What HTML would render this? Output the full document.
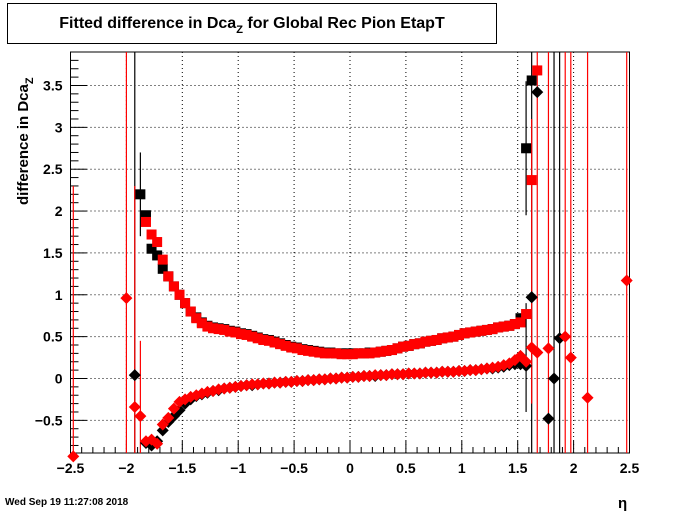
<!DOCTYPE html>
<html><head><meta charset="utf-8"><style>
body{margin:0;background:#fff;font-family:"Liberation Sans",sans-serif}
svg{display:block}
text{font-family:"Liberation Sans",sans-serif;font-weight:bold}
</style></head><body>
<svg id="c" width="700" height="512">
<rect x="7.5" y="3.5" width="489" height="40" fill="#fff" stroke="#000"/>
<text x="252" y="28" font-size="16" text-anchor="middle">Fitted difference in Dca<tspan font-size="11" dy="5">Z</tspan><tspan dy="-5"> for Global Rec Pion EtapT</tspan></text>
<text transform="translate(28,205) rotate(-90)" font-size="15">difference in Dca<tspan font-size="11" dy="5">Z</tspan></text>
<text x="618" y="508" font-size="15" font-weight="normal">η</text>
<text x="5" y="505" font-size="10">Wed Sep 19 11:27:08 2018</text>
<g id="grid"></g><g id="axes"></g><g id="marks"></g>
</svg>
<script>
const xMin=-2.5,xMax=2.5,yMin=-0.89,yMax=3.9;
const L=70.5,R=629.5,T=52,B=453;
const xTicks=[-2.5,-2,-1.5,-1,-0.5,0,0.5,1,1.5,2,2.5];
const xTickLabels=["−2.5","−2","−1.5","−1","−0.5","0","0.5","1","1.5","2","2.5"];
const yTicks=[-0.5,0,0.5,1,1.5,2,2.5,3,3.5];
const yTickLabels=["−0.5","0","0.5","1","1.5","2","2.5","3","3.5"];
const upperRedStart=-1.825;
const upperRed=[1.87,1.72,1.63,1.42,1.22,1.1,1.0,0.9,0.8,0.72,0.66,0.62,0.6,0.59,0.58,0.56,0.55,0.53,0.52,0.5,0.48,0.46,0.45,0.43,0.41,0.39,0.37,0.36,0.34,0.33,0.32,0.31,0.3,0.3,0.3,0.29,0.29,0.29,0.3,0.3,0.3,0.31,0.32,0.33,0.34,0.36,0.38,0.39,0.41,0.42,0.44,0.45,0.46,0.48,0.49,0.5,0.52,0.54,0.55,0.56,0.57,0.58,0.59,0.61,0.62,0.63,0.65,0.67,0.77,2.37,3.68];
const upperBlackStart=-1.875;
const upperBlack=[2.2,1.95,1.55,1.47,1.31,1.22,1.1,1.0,0.9,0.8,0.73,0.67,0.63,0.61,0.6,0.59,0.57,0.56,0.54,0.53,0.51,0.49,0.47,0.46,0.44,0.42,0.4,0.38,0.37,0.35,0.34,0.33,0.32,0.31,0.31,0.3,0.3,0.3,0.3,0.3,0.3,0.31,0.31,0.32,0.33,0.34,0.36,0.38,0.39,0.41,0.42,0.44,0.45,0.46,0.48,0.49,0.5,0.52,0.54,0.55,0.56,0.57,0.58,0.59,0.61,0.62,0.63,0.65,0.72,2.75,3.56];
const lowerRedStart=-1.825;
const lowerRed=[-0.75,-0.73,-0.78,-0.55,-0.47,-0.36,-0.28,-0.25,-0.22,-0.2,-0.18,-0.16,-0.15,-0.13,-0.12,-0.11,-0.1,-0.09,-0.08,-0.07,-0.07,-0.06,-0.06,-0.05,-0.05,-0.04,-0.04,-0.03,-0.03,-0.02,-0.02,-0.01,-0.01,0,0,0.01,0.01,0.02,0.02,0.03,0.03,0.04,0.04,0.04,0.05,0.05,0.05,0.06,0.06,0.06,0.07,0.07,0.07,0.08,0.08,0.08,0.09,0.09,0.1,0.1,0.11,0.12,0.13,0.14,0.16,0.18,0.22,0.27,0.2,0.37,0.31];
const lowerBlackStart=-1.825;
const lowerBlack=[-0.77,-0.8,-0.75,-0.62,-0.52,-0.45,-0.38,-0.3,-0.25,-0.21,-0.19,-0.17,-0.15,-0.14,-0.12,-0.11,-0.1,-0.09,-0.08,-0.08,-0.07,-0.06,-0.06,-0.05,-0.05,-0.04,-0.04,-0.03,-0.03,-0.02,-0.02,-0.01,-0.01,0,0,0.01,0.01,0.02,0.02,0.03,0.03,0.03,0.04,0.04,0.05,0.05,0.05,0.06,0.06,0.06,0.07,0.07,0.07,0.08,0.08,0.08,0.09,0.09,0.1,0.1,0.11,0.12,0.12,0.13,0.14,0.16,0.17,0.17,0.15,0.97,3.42];
// outliers: eta, value, errLow, errHigh
const redOutEta=[-2.475,-2.0,-1.925,-1.875,1.625,1.675,1.775,1.925,1.975,2.125,2.475];
const redOutVal=[-0.93,0.96,-0.34,-0.45,2.37,0.31,0.36,0.5,0.25,-0.23,1.17];
const redOutLo=[-0.93,-5,-5,-0.9,-0.3,-5,-5,-5,-5,-5,-5];
const redOutHi=[2.3,5,2.3,0.45,3.1,5,5,5,5,5,5];
const blackOutEta=[-1.925,-1.875,1.575,1.575,1.625,1.775,1.825,1.875];
const blackOutVal=[0.04,2.2,2.75,0.15,0.97,-0.48,0.0,0.48];
const blackOutLo=[-5,1.7,1.95,-0.4,-5,-0.48,-5,-5];
const blackOutHi=[5,2.7,3.55,0.9,5,-0.48,5,5];

const NS='http://www.w3.org/2000/svg';
const sx=v=>L+(v-xMin)/(xMax-xMin)*(R-L);
const sy=v=>B-(v-yMin)/(yMax-yMin)*(B-T);
const cy=v=>Math.max(T,Math.min(B,sy(v)));
function mk(p,tag,at){const e=document.createElementNS(NS,tag);for(const k in at)e.setAttribute(k,at[k]);p.appendChild(e);return e;}
const grid=document.getElementById('grid'),axes=document.getElementById('axes'),marks=document.getElementById('marks');
xTicks.forEach((t,i)=>{
 if(i>0&&i<xTicks.length-1){const g=mk(grid,'line',{x1:sx(t),x2:sx(t),y1:T,y2:B,stroke:'#000','stroke-dasharray':'1 3'});
 
 }
 const tx=mk(axes,'text',{x:sx(t),y:B+20,'font-size':14,'text-anchor':'middle'});tx.textContent=xTickLabels[i];
 
 
});
for(let v=-2.5;v<=2.501;v+=0.1){const maj=Math.abs(v*2-Math.round(v*2))<1e-6;mk(axes,'line',{x1:sx(v),x2:sx(v),y1:B,y2:B-(maj?12:6),stroke:'#000'});}
yTicks.forEach((t,i)=>{
 const g=mk(grid,'line',{x1:L,x2:R,y1:sy(t),y2:sy(t),stroke:'#000','stroke-dasharray':'1 3'});
 
 
 const tx=mk(axes,'text',{x:L-8,y:sy(t)+5,'font-size':14,'text-anchor':'end'});tx.textContent=yTickLabels[i];
 
 
});
for(let v=-0.8;v<=3.85;v+=0.1){const maj=Math.abs(v*2-Math.round(v*2))<1e-6;mk(axes,'line',{x1:L,x2:L+(maj?16:8),y1:sy(v),y2:sy(v),stroke:'#000'});}
const fr=mk(axes,'rect',{x:L,y:T,width:R-L,height:B-T,fill:'none',stroke:'#000'});


function sq(x,y,c,n){const e=mk(marks,'rect',{x:sx(x)-5,y:sy(y)-5,width:10,height:10,fill:c});
 
 }
function dm(x,y,c,n){const X=sx(x),Y=sy(y);const e=mk(marks,'polygon',{points:`${X},${Y-6} ${X+6},${Y} ${X},${Y+6} ${X-6},${Y}`,fill:c});
 
 }
function eb(x,lo,hi,c){const e=mk(marks,'line',{x1:sx(x),x2:sx(x),y1:cy(lo),y2:cy(hi),stroke:c,'stroke-width':1.2});
 
 }
blackOutEta.forEach((x,i)=>{eb(x,blackOutLo[i],blackOutHi[i],'#000');});
redOutEta.forEach((x,i)=>{eb(x,redOutLo[i],redOutHi[i],'#f00');});
upperBlack.forEach((v,i)=>sq(upperBlackStart+0.05*i,v,'#000','black-square-point'));
lowerBlack.forEach((v,i)=>dm(lowerBlackStart+0.05*i,v,'#000','black-diamond-point'));
blackOutEta.forEach((x,i)=>{if(blackOutVal[i]<1.6&&x>1.6||x<-1.9)dm(x,blackOutVal[i],'#000','black-outlier');});
upperRed.forEach((v,i)=>sq(upperRedStart+0.05*i,v,'#f00','red-square-point'));
lowerRed.forEach((v,i)=>dm(lowerRedStart+0.05*i,v,'#f00','red-diamond-point'));
redOutEta.forEach((x,i)=>{if(x!==1.625)dm(x,redOutVal[i],'#f00','red-outlier');});
</script>
</body></html>
